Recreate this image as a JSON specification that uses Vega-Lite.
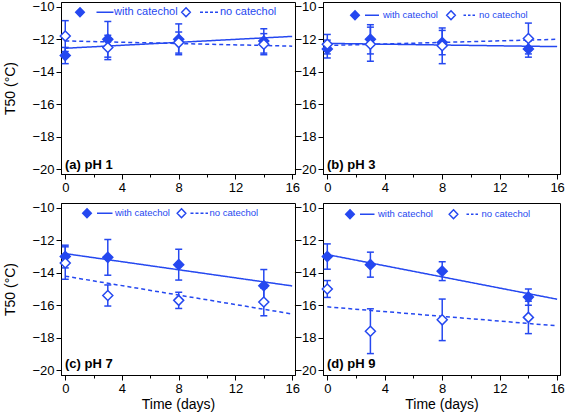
{
  "$schema": "https://vega.github.io/schema/vega-lite/v6.json",
  "padding": {"left": 3, "top": 0, "right": 5, "bottom": 0},
  "datasets": {
    "pts": [
      {"panel": "a", "series": "with catechol", "day": 0, "t50": -13.0, "lo": -13.5, "hi": -12.5},
      {"panel": "a", "series": "with catechol", "day": 3, "t50": -12.0, "lo": -13.1, "hi": -10.9},
      {"panel": "a", "series": "with catechol", "day": 8, "t50": -12.0, "lo": -12.95, "hi": -11.05},
      {"panel": "a", "series": "with catechol", "day": 14, "t50": -12.1, "lo": -12.85, "hi": -11.35},
      {"panel": "a", "series": "no catechol", "day": 0, "t50": -11.8, "lo": -12.75, "hi": -10.85},
      {"panel": "a", "series": "no catechol", "day": 3, "t50": -12.5, "lo": -13.25, "hi": -11.75},
      {"panel": "a", "series": "no catechol", "day": 8, "t50": -12.2, "lo": -12.85, "hi": -11.55},
      {"panel": "a", "series": "no catechol", "day": 14, "t50": -12.3, "lo": -12.95, "hi": -11.65},
      {"panel": "b", "series": "with catechol", "day": 0, "t50": -12.6, "lo": -13.15, "hi": -12.05},
      {"panel": "b", "series": "with catechol", "day": 3, "t50": -12.0, "lo": -12.9, "hi": -11.1},
      {"panel": "b", "series": "with catechol", "day": 8, "t50": -12.2, "lo": -12.95, "hi": -11.45},
      {"panel": "b", "series": "with catechol", "day": 14, "t50": -12.6, "lo": -13.1, "hi": -12.1},
      {"panel": "b", "series": "no catechol", "day": 0, "t50": -12.3, "lo": -12.9, "hi": -11.7},
      {"panel": "b", "series": "no catechol", "day": 3, "t50": -12.3, "lo": -13.35, "hi": -11.25},
      {"panel": "b", "series": "no catechol", "day": 8, "t50": -12.4, "lo": -13.5, "hi": -11.3},
      {"panel": "b", "series": "no catechol", "day": 14, "t50": -11.95, "lo": -12.9, "hi": -11.0},
      {"panel": "c", "series": "with catechol", "day": 0, "t50": -13.0, "lo": -13.7, "hi": -12.3},
      {"panel": "c", "series": "with catechol", "day": 3, "t50": -13.05, "lo": -14.15, "hi": -11.95},
      {"panel": "c", "series": "with catechol", "day": 8, "t50": -13.5, "lo": -14.45, "hi": -12.55},
      {"panel": "c", "series": "with catechol", "day": 14, "t50": -14.8, "lo": -15.8, "hi": -13.8},
      {"panel": "c", "series": "no catechol", "day": 0, "t50": -13.4, "lo": -14.4, "hi": -12.4},
      {"panel": "c", "series": "no catechol", "day": 3, "t50": -15.4, "lo": -16.05, "hi": -14.75},
      {"panel": "c", "series": "no catechol", "day": 8, "t50": -15.7, "lo": -16.2, "hi": -15.2},
      {"panel": "c", "series": "no catechol", "day": 14, "t50": -15.8, "lo": -16.65, "hi": -14.95},
      {"panel": "d", "series": "with catechol", "day": 0, "t50": -13.0, "lo": -13.78, "hi": -12.22},
      {"panel": "d", "series": "with catechol", "day": 3, "t50": -13.5, "lo": -14.27, "hi": -12.73},
      {"panel": "d", "series": "with catechol", "day": 8, "t50": -13.9, "lo": -14.48, "hi": -13.32},
      {"panel": "d", "series": "with catechol", "day": 14, "t50": -15.5, "lo": -16.0, "hi": -15.0},
      {"panel": "d", "series": "no catechol", "day": 0, "t50": -15.0, "lo": -15.52, "hi": -14.48},
      {"panel": "d", "series": "no catechol", "day": 3, "t50": -17.6, "lo": -18.98, "hi": -16.22},
      {"panel": "d", "series": "no catechol", "day": 8, "t50": -16.9, "lo": -18.18, "hi": -15.62},
      {"panel": "d", "series": "no catechol", "day": 14, "t50": -16.75, "lo": -17.75, "hi": -15.75}
    ],
    "fit": [
      {"panel": "a", "series": "with catechol", "day": 0, "t50": -12.55},
      {"panel": "a", "series": "with catechol", "day": 16, "t50": -11.82},
      {"panel": "a", "series": "no catechol", "day": 0, "t50": -12.1},
      {"panel": "a", "series": "no catechol", "day": 16, "t50": -12.42},
      {"panel": "b", "series": "with catechol", "day": 0, "t50": -12.25},
      {"panel": "b", "series": "with catechol", "day": 16, "t50": -12.45},
      {"panel": "b", "series": "no catechol", "day": 0, "t50": -12.38},
      {"panel": "b", "series": "no catechol", "day": 16, "t50": -12.0},
      {"panel": "c", "series": "with catechol", "day": 0, "t50": -12.82},
      {"panel": "c", "series": "with catechol", "day": 16, "t50": -14.81},
      {"panel": "c", "series": "no catechol", "day": 0, "t50": -14.21},
      {"panel": "c", "series": "no catechol", "day": 16, "t50": -16.54},
      {"panel": "d", "series": "with catechol", "day": 0, "t50": -12.88},
      {"panel": "d", "series": "with catechol", "day": 16, "t50": -15.63},
      {"panel": "d", "series": "no catechol", "day": 0, "t50": -16.1},
      {"panel": "d", "series": "no catechol", "day": 16, "t50": -17.27}
    ]
  },
  "config": {
    "font": "Liberation Sans",
    "view": {"stroke": "black", "strokeWidth": 1},
    "axis": {"grid": false, "domainColor": "black", "tickColor": "black", "labelColor": "black", "titleColor": "black", "labelFontSize": 13, "titleFontSize": 14, "titleFontWeight": "normal", "labelPadding": 2, "tickSize": 5, "labelOverlap": false},
    "axisX": {"values": [0,2,4,6,8,10,12,14,16], "labelExpr": "datum.value % 4 === 0 ? datum.label : ''", "tickSize": {"condition": {"test": "datum.value % 4 !== 0", "value": 3}, "value": 5}},
    "axisY": {"values": [-20,-18,-16,-14,-12,-10]},
    "title": {"fontSize": 13, "fontWeight": "bold", "color": "black", "anchor": "start", "frame": "group", "orient": "bottom"},
    "legend": {"orient": "none", "direction": "horizontal", "padding": 0, "labelFontSize": 9.5, "labelColor": "#2548f0", "symbolSize": 100, "symbolStrokeWidth": 1.5, "symbolStrokeColor": "#2548f0", "symbolOpacity": 1}
  },
  "spacing": 6,
  "resolve": {"scale": {"fill": "independent", "strokeDash": "independent"}, "legend": {"fill": "independent"}},
  "vconcat": [
    {
      "spacing": -7,
      "resolve": {"scale": {"fill": "independent", "strokeDash": "independent"}, "legend": {"fill": "independent"}},
      "hconcat": [
        {
          "width": 234, "height": 172,
          "title": {"text": "(a) pH 1", "offset": -35, "dx": 4},
          "encoding": {
            "x": {"field": "day", "type": "quantitative", "scale": {"domain": [-0.3, 16.2], "nice": false, "zero": false}, "axis": {"title": null}}
          },
          "layer": [
            {"data": {"name": "fit"}, "transform": [{"filter": "datum.panel === 'a'"}],
             "mark": {"type": "line", "color": "#2548f0", "strokeWidth": 1.5},
             "encoding": {
               "y": {"field": "t50", "type": "quantitative", "scale": {"domain": [-20.3, -9.7], "nice": false, "zero": false}, "axis": {"title": "T50 (°C)", "titlePadding": 14}},
               "strokeDash": {"field": "series", "type": "nominal", "scale": {"domain": ["no catechol", "with catechol"], "range": [[4,3],[1,0]]}, "legend": null}
             }},
            {"data": {"name": "pts"}, "transform": [{"filter": "datum.panel === 'a'"}],
             "mark": {"type": "rule", "color": "#2548f0", "strokeWidth": 1.5},
             "encoding": {"y": {"field": "lo", "type": "quantitative", "axis": {"title": "T50 (°C)", "titlePadding": 14}}, "y2": {"field": "hi"}}},
            {"data": {"name": "pts"}, "transform": [{"filter": "datum.panel === 'a'"}],
             "mark": {"type": "tick", "orient": "horizontal", "color": "#2548f0", "size": 7, "thickness": 1.5, "opacity": 1},
             "encoding": {"y": {"field": "lo", "type": "quantitative", "axis": {"title": "T50 (°C)", "titlePadding": 14}}}},
            {"data": {"name": "pts"}, "transform": [{"filter": "datum.panel === 'a'"}],
             "mark": {"type": "tick", "orient": "horizontal", "color": "#2548f0", "size": 7, "thickness": 1.5, "opacity": 1},
             "encoding": {"y": {"field": "hi", "type": "quantitative", "axis": {"title": "T50 (°C)", "titlePadding": 14}}}},
            {"data": {"name": "pts"}, "transform": [{"filter": "datum.panel === 'a'"}],
             "mark": {"type": "point", "shape": "diamond", "filled": true, "stroke": "#2548f0", "strokeWidth": 1.5, "size": 100, "opacity": 1},
             "encoding": {
               "y": {"field": "t50", "type": "quantitative", "axis": {"title": "T50 (°C)", "titlePadding": 14}},
               "fill": {"field": "series", "type": "nominal", "scale": {"domain": ["with catechol", "no catechol"], "range": ["#2548f0", "white"]},
                 "legend": {"title": null, "legendX": 13, "legendY": 4, "labelOffset": 28, "columnPadding": 0, "labelFontSize": 11,
                   "encode": {"symbols": {"update": {"shape": {"signal": "datum.value === 'with catechol' ? 'M0,-0.9L0.86,0L0,0.9L-0.86,0ZM3.3,0L6.7,0' : 'M0,-0.9L0.86,0L0,0.9L-0.86,0ZM2.8,0L3.4,0M3.8,0L4.4,0M4.8,0L5.4,0M5.8,0L6.4,0'"}}}}}}
             }}
          ]
        },
        {
          "width": 237, "height": 172,
          "title": {"text": "(b) pH 3", "offset": -35, "dx": 4},
          "encoding": {
            "x": {"field": "day", "type": "quantitative", "scale": {"domain": [-0.3, 16.2], "nice": false, "zero": false}, "axis": {"title": null}}
          },
          "layer": [
            {"data": {"name": "fit"}, "transform": [{"filter": "datum.panel === 'b'"}],
             "mark": {"type": "line", "color": "#2548f0", "strokeWidth": 1.5},
             "encoding": {
               "y": {"field": "t50", "type": "quantitative", "scale": {"domain": [-20.3, -9.7], "nice": false, "zero": false}, "axis": {"title": null}},
               "strokeDash": {"field": "series", "type": "nominal", "scale": {"domain": ["no catechol", "with catechol"], "range": [[4,3],[1,0]]}, "legend": null}
             }},
            {"data": {"name": "pts"}, "transform": [{"filter": "datum.panel === 'b'"}],
             "mark": {"type": "rule", "color": "#2548f0", "strokeWidth": 1.5},
             "encoding": {"y": {"field": "lo", "type": "quantitative", "axis": {"title": null}}, "y2": {"field": "hi"}}},
            {"data": {"name": "pts"}, "transform": [{"filter": "datum.panel === 'b'"}],
             "mark": {"type": "tick", "orient": "horizontal", "color": "#2548f0", "size": 7, "thickness": 1.5, "opacity": 1},
             "encoding": {"y": {"field": "lo", "type": "quantitative", "axis": {"title": null}}}},
            {"data": {"name": "pts"}, "transform": [{"filter": "datum.panel === 'b'"}],
             "mark": {"type": "tick", "orient": "horizontal", "color": "#2548f0", "size": 7, "thickness": 1.5, "opacity": 1},
             "encoding": {"y": {"field": "hi", "type": "quantitative", "axis": {"title": null}}}},
            {"data": {"name": "pts"}, "transform": [{"filter": "datum.panel === 'b'"}],
             "mark": {"type": "point", "shape": "diamond", "filled": true, "stroke": "#2548f0", "strokeWidth": 1.5, "size": 100, "opacity": 1},
             "encoding": {
               "y": {"field": "t50", "type": "quantitative", "axis": {"title": null}},
               "fill": {"field": "series", "type": "nominal", "scale": {"domain": ["with catechol", "no catechol"], "range": ["#2548f0", "white"]},
                 "legend": {"title": null, "legendX": 26, "legendY": 7, "labelOffset": 22, "columnPadding": 5,
                   "encode": {"symbols": {"update": {"shape": {"signal": "datum.value === 'with catechol' ? 'M0,-0.9L0.86,0L0,0.9L-0.86,0ZM2,0L4.8,0' : 'M0,-0.9L0.86,0L0,0.9L-0.86,0ZM2.5,0L3,0M3.4,0L3.9,0M4.3,0L4.8,0'"}}}}}}
             }}
          ]
        }
      ]
    },
    {
      "spacing": -7,
      "resolve": {"scale": {"fill": "independent", "strokeDash": "independent"}, "legend": {"fill": "independent"}},
      "hconcat": [
        {
          "width": 234, "height": 172,
          "title": {"text": "(c) pH 7", "offset": -53, "dx": 4},
          "encoding": {
            "x": {"field": "day", "type": "quantitative", "scale": {"domain": [-0.3, 16.2], "nice": false, "zero": false}, "axis": {"title": "Time (days)", "titlePadding": 2}}
          },
          "layer": [
            {"data": {"name": "fit"}, "transform": [{"filter": "datum.panel === 'c'"}],
             "mark": {"type": "line", "color": "#2548f0", "strokeWidth": 1.5},
             "encoding": {
               "y": {"field": "t50", "type": "quantitative", "scale": {"domain": [-20.3, -9.7], "nice": false, "zero": false}, "axis": {"title": "T50 (°C)", "titlePadding": 14}},
               "strokeDash": {"field": "series", "type": "nominal", "scale": {"domain": ["no catechol", "with catechol"], "range": [[4,3],[1,0]]}, "legend": null}
             }},
            {"data": {"name": "pts"}, "transform": [{"filter": "datum.panel === 'c'"}],
             "mark": {"type": "rule", "color": "#2548f0", "strokeWidth": 1.5},
             "encoding": {"y": {"field": "lo", "type": "quantitative", "axis": {"title": "T50 (°C)", "titlePadding": 14}}, "y2": {"field": "hi"}}},
            {"data": {"name": "pts"}, "transform": [{"filter": "datum.panel === 'c'"}],
             "mark": {"type": "tick", "orient": "horizontal", "color": "#2548f0", "size": 7, "thickness": 1.5, "opacity": 1},
             "encoding": {"y": {"field": "lo", "type": "quantitative", "axis": {"title": "T50 (°C)", "titlePadding": 14}}}},
            {"data": {"name": "pts"}, "transform": [{"filter": "datum.panel === 'c'"}],
             "mark": {"type": "tick", "orient": "horizontal", "color": "#2548f0", "size": 7, "thickness": 1.5, "opacity": 1},
             "encoding": {"y": {"field": "hi", "type": "quantitative", "axis": {"title": "T50 (°C)", "titlePadding": 14}}}},
            {"data": {"name": "pts"}, "transform": [{"filter": "datum.panel === 'c'"}],
             "mark": {"type": "point", "shape": "diamond", "filled": true, "stroke": "#2548f0", "strokeWidth": 1.5, "size": 100, "opacity": 1},
             "encoding": {
               "y": {"field": "t50", "type": "quantitative", "axis": {"title": "T50 (°C)", "titlePadding": 14}},
               "fill": {"field": "series", "type": "nominal", "scale": {"domain": ["with catechol", "no catechol"], "range": ["#2548f0", "white"]},
                 "legend": {"title": null, "legendX": 20, "legendY": 4, "labelOffset": 22, "columnPadding": 3.5,
                   "encode": {"symbols": {"update": {"shape": {"signal": "datum.value === 'with catechol' ? 'M0,-0.9L0.86,0L0,0.9L-0.86,0ZM2,0L5.1,0' : 'M0,-0.9L0.86,0L0,0.9L-0.86,0ZM1.8,0L2.4,0M2.8,0L3.4,0M3.8,0L4.4,0M4.8,0L5.3,0'"}}}}}}
             }}
          ]
        },
        {
          "width": 237, "height": 172,
          "title": {"text": "(d) pH 9", "offset": -53, "dx": 4},
          "encoding": {
            "x": {"field": "day", "type": "quantitative", "scale": {"domain": [-0.3, 16.2], "nice": false, "zero": false}, "axis": {"title": "Time (days)", "titlePadding": 2}}
          },
          "layer": [
            {"data": {"name": "fit"}, "transform": [{"filter": "datum.panel === 'd'"}],
             "mark": {"type": "line", "color": "#2548f0", "strokeWidth": 1.5},
             "encoding": {
               "y": {"field": "t50", "type": "quantitative", "scale": {"domain": [-20.3, -9.7], "nice": false, "zero": false}, "axis": {"title": null}},
               "strokeDash": {"field": "series", "type": "nominal", "scale": {"domain": ["no catechol", "with catechol"], "range": [[4,3],[1,0]]}, "legend": null}
             }},
            {"data": {"name": "pts"}, "transform": [{"filter": "datum.panel === 'd'"}],
             "mark": {"type": "rule", "color": "#2548f0", "strokeWidth": 1.5},
             "encoding": {"y": {"field": "lo", "type": "quantitative", "axis": {"title": null}}, "y2": {"field": "hi"}}},
            {"data": {"name": "pts"}, "transform": [{"filter": "datum.panel === 'd'"}],
             "mark": {"type": "tick", "orient": "horizontal", "color": "#2548f0", "size": 7, "thickness": 1.5, "opacity": 1},
             "encoding": {"y": {"field": "lo", "type": "quantitative", "axis": {"title": null}}}},
            {"data": {"name": "pts"}, "transform": [{"filter": "datum.panel === 'd'"}],
             "mark": {"type": "tick", "orient": "horizontal", "color": "#2548f0", "size": 7, "thickness": 1.5, "opacity": 1},
             "encoding": {"y": {"field": "hi", "type": "quantitative", "axis": {"title": null}}}},
            {"data": {"name": "pts"}, "transform": [{"filter": "datum.panel === 'd'"}],
             "mark": {"type": "point", "shape": "diamond", "filled": true, "stroke": "#2548f0", "strokeWidth": 1.5, "size": 100, "opacity": 1},
             "encoding": {
               "y": {"field": "t50", "type": "quantitative", "axis": {"title": null}},
               "fill": {"field": "series", "type": "nominal", "scale": {"domain": ["with catechol", "no catechol"], "range": ["#2548f0", "white"]},
                 "legend": {"title": null, "legendX": 21, "legendY": 5, "labelOffset": 22, "columnPadding": 12.5,
                   "encode": {"symbols": {"update": {"shape": {"signal": "datum.value === 'with catechol' ? 'M0,-0.9L0.86,0L0,0.9L-0.86,0ZM2,0L4.9,0' : 'M0,-0.9L0.86,0L0,0.9L-0.86,0ZM2.6,0L3.1,0M3.5,0L4,0M4.4,0L4.9,0'"}}}}}}
             }}
          ]
        }
      ]
    }
  ]
}
